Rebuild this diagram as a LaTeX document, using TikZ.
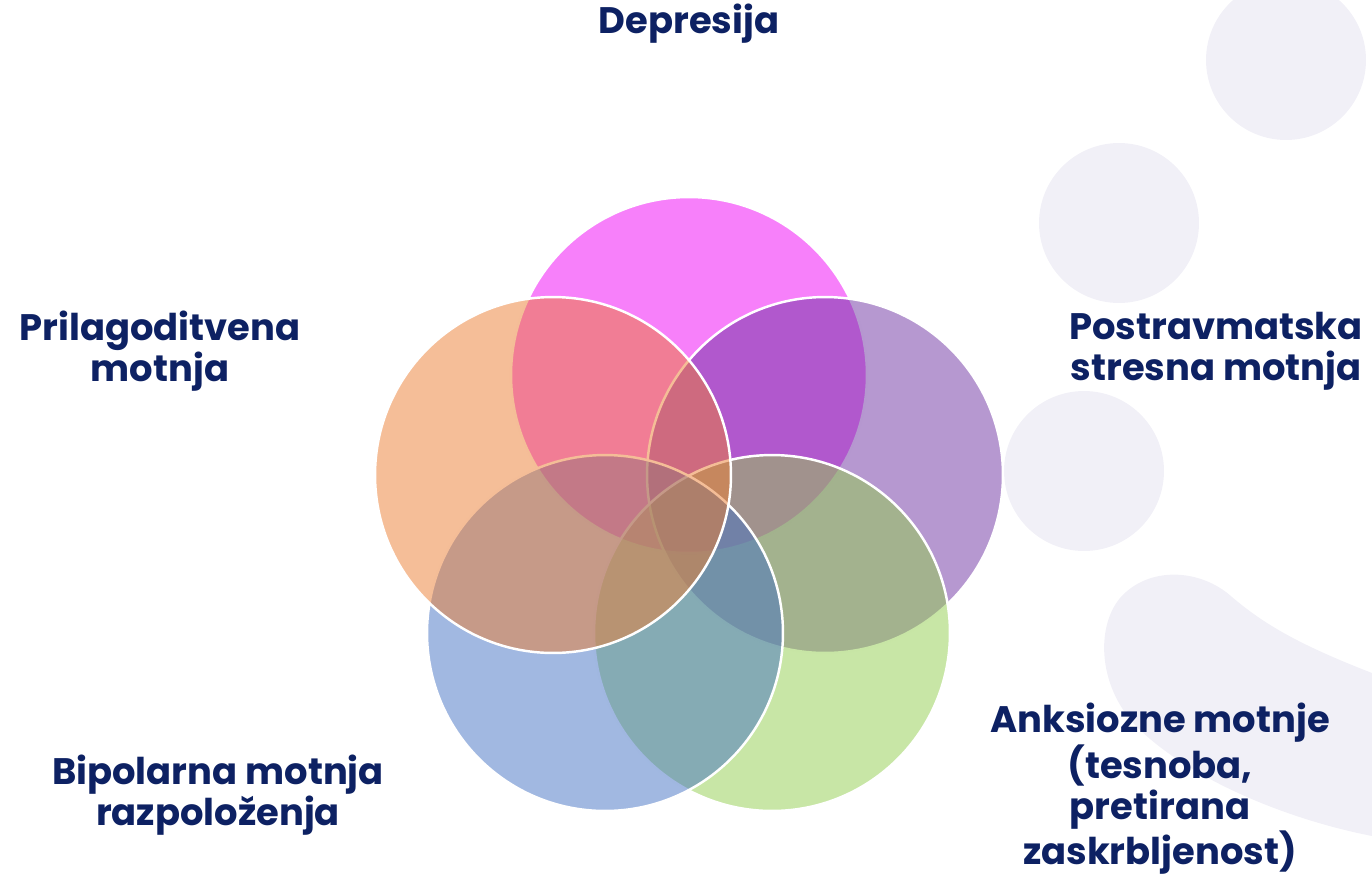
\documentclass[tikz,border=0pt]{standalone}
\usepackage{fontspec}
\setmainfont{Poppins}
\definecolor{labelblue}{RGB}{13,33,99}
\definecolor{bgdot}{RGB}{241,240,247}
\definecolor{cdep}{RGB}{239,1,245}
\definecolor{cptsd}{RGB}{109,49,161}
\definecolor{canx}{RGB}{145,205,77}
\definecolor{cbip}{RGB}{67,113,195}
\definecolor{cadj}{RGB}{235,125,49}
\tikzset{
  venn/.style={fill=#1,fill opacity=0.5,draw=white,line width=1.4pt},
  lbl/.style={text=labelblue,font=\fontsize{21}{23.6}\selectfont\bfseries,align=center,inner sep=0pt}
}
\begin{document}
\begin{tikzpicture}[line cap=round,line join=round,x=0.02cm,y=-0.02cm]
\useasboundingbox (0,0) rectangle (1372,876);
% background dots
\begin{scope}
\clip (0,0) rectangle (1372,876);
\fill [bgdot] (1286,60) circle (1.6cm);
\fill [bgdot] (1119,223) circle (1.6cm);
\fill [bgdot] (1084,471) circle (1.6cm);
\fill [bgdot] (1372,673) .. controls (1300,645) and (1265,625) .. (1232,597)
  .. controls (1200,568) and (1148,566) .. (1120,598)
  .. controls (1095,628) and (1098,690) .. (1140,730)
  .. controls (1195,782) and (1290,820) .. (1372,836) -- cycle;
\end{scope}
% the five circles
\draw [venn=cdep] (689,375) circle (3.56cm);
\draw [venn=cptsd] (825,475) circle (3.56cm);
\draw [venn=canx] (772,633) circle (3.56cm);
\draw [venn=cbip] (605,633) circle (3.56cm);
\draw [venn=cadj] (553,475) circle (3.56cm);
% labels
\node [lbl] (dep) at (689,24) {Depresija};
\node [lbl] (adj) at (160,351) {Prilagoditvena\\motnja};
\node [lbl] (ptsd) at (1216,351) {Postravmatska\\stresna motnja};
\node [lbl] (bip) at (218,795) {Bipolarna motnja\\razpoloženja};
\node [lbl] (anx) at (1160,789) {Anksiozne motnje\\(tesnoba,\\pretirana\\zaskrbljenost)};
\end{tikzpicture}
\end{document}
